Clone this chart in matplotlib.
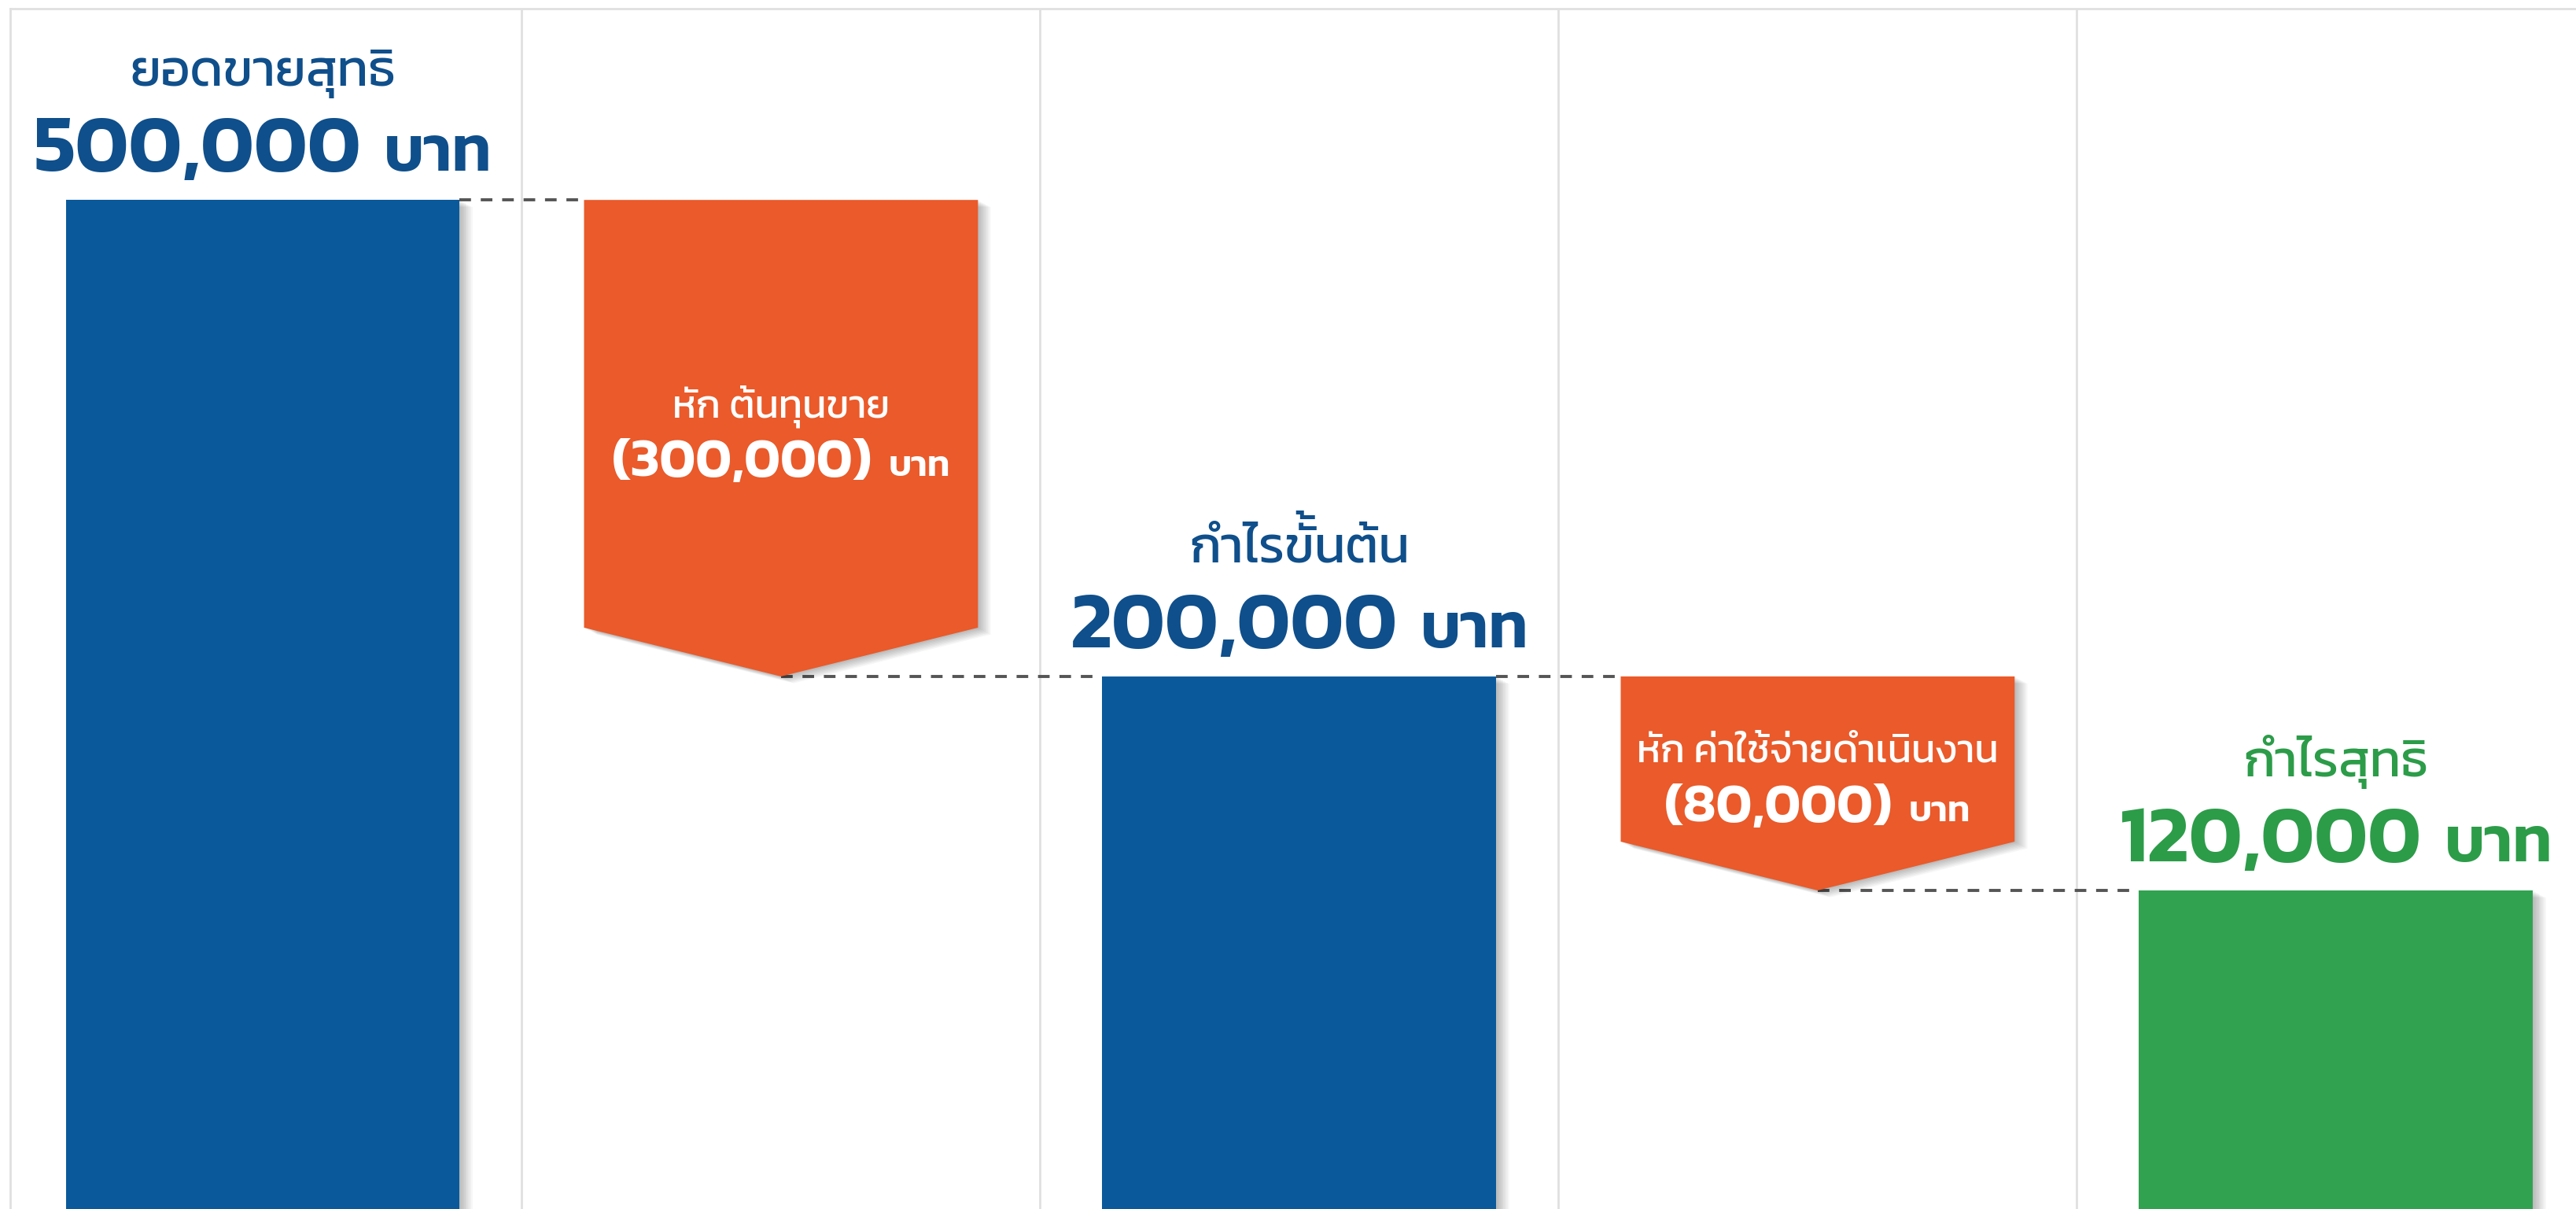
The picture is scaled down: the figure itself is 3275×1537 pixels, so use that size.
import numpy as np
import matplotlib
matplotlib.use("Agg")
import matplotlib.pyplot as plt
import matplotlib.patheffects as pe
import matplotlib.transforms as mtransforms
from matplotlib.patches import Polygon
from matplotlib import font_manager as fm

# ---------------------------------------------------------
# DATA
# ---------------------------------------------------------
steps = ['ยอดขายสุทธิ', 'หัก ต้นทุนขาย', 'กำไรขั้นต้น', 'หัก ค่าใช้จ่ายดำเนินงาน', 'กำไรสุทธิ']
amounts = [500000, -300000, 200000, -80000, 120000]
kinds = ['total', 'minus', 'total', 'minus', 'total']
unit = 'บาท'

# ---------------------------------------------------------
# FONT
# ---------------------------------------------------------
names = {f.name for f in fm.fontManager.ttflist}
thai = 'Kanit' if 'Kanit' in names else 'IBM Plex Sans Thai'
plt.rcParams['font.family'] = [thai, 'DejaVu Sans']

BLUE = '#0a5a9b'
BLUE_TXT = '#0f4f8b'
ORANGE = '#ea5a2a'
GREEN = '#31a350'
GREEN_TXT = '#2c9c49'
GRID = '#e0e0e0'

fig = plt.figure(figsize=(32.75, 15.37), dpi=100, facecolor='white')
ax = fig.add_axes([13 / 3275, 0, 1 - 13 / 3275, 1 - 11 / 1537])

# the picture is not drawn to a linear scale, a 0.3 power scale fits it
ax.set_yscale('function', functions=(lambda v: np.power(np.clip(v, 0, None), 0.3),
                                     lambda s: np.power(np.clip(s, 0, None), 1 / 0.3)))
ax.set_xlim(-0.487, 4.463)
ax.set_ylim(46700, 679700)
ax.set_xticks([])
ax.set_yticks([])
for side in ['right', 'bottom']:
    ax.spines[side].set_visible(False)
for side in ['left', 'top']:
    ax.spines[side].set_color(GRID)
    ax.spines[side].set_linewidth(2)
for xs in np.arange(0.5, len(steps) - 0.5):
    ax.axvline(xs, color=GRID, lw=2, zorder=0)


def soft_shadow():
    fx = [pe.SimplePatchShadow(offset=(k * 1.3, -k * 0.7), shadow_rgbFace='black', alpha=0.03)
          for k in range(1, 10)]
    return fx + [pe.Normal()]


def yfrac(v):
    return (ax.transScale + ax.transLimits).transform((0, v))[1]


blend = mtransforms.blended_transform_factory(ax.transData, ax.transAxes)
renderer = fig.canvas.get_renderer()

UPPER = 'ัิีึื'
TONES = '่้๊๋์'


def thai_text(x, y, s, trans, size, **kw):
    # matplotlib has no mark stacking, so a tone mark sitting on an upper
    # vowel (e.g. ขั้) is drawn on its own, lifted above the vowel
    stacked = [k for k, c in enumerate(s) if c in TONES and k > 0 and s[k - 1] in UPPER]
    clean = ''.join(c for k, c in enumerate(s) if k not in stacked)
    t = ax.text(x, y, clean, fontsize=size, ha='center', va='baseline', transform=trans, **kw)
    if not stacked:
        return t
    box = t.get_window_extent(renderer)
    ax_x = trans.transform((x, y))[0]
    for k in stacked:
        prefix = ''.join(c for j, c in enumerate(s[:k]) if j not in stacked)
        wp, _, _ = renderer.get_text_width_height_descent(prefix, t.get_fontproperties(), ismath=False)
        lift = 0.22 * size * fig.dpi / 72
        ax.text(x, y, s[k], fontsize=size, ha='right', va='baseline',
                transform=mtransforms.offset_copy(trans, fig, x=box.x0 + wp - ax_x, y=lift, units='dots'), **kw)
    return t


def value_label(xc, y, num, color, num_size, unit_size, yoff, gap=29, trans=None):
    # number + smaller unit, centred together on xc, on one baseline
    trans = ax.transData if trans is None else trans
    t1 = ax.text(xc, y, num, fontsize=num_size, fontweight='semibold', color=color,
                 ha='left', va='baseline', transform=trans, zorder=6)
    t2 = ax.text(xc, y, unit, fontsize=unit_size, fontweight='semibold', color=color,
                 ha='left', va='baseline', transform=trans, zorder=6)
    w1 = t1.get_window_extent(renderer).width
    w2 = t2.get_window_extent(renderer).width
    total = w1 + gap + w2
    t1.set_transform(mtransforms.offset_copy(trans, fig, x=-total / 2, y=yoff, units='dots'))
    t2.set_transform(mtransforms.offset_copy(trans, fig, x=-total / 2 + w1 + gap, y=yoff, units='dots'))


bar_w = 0.76
notch = 62 / 1526
run = []
level = 0
for i, (name, amt, kind) in enumerate(zip(steps, amounts, kinds)):
    if kind == 'total':
        level = amt
        last = i == len(steps) - 1
        color = GREEN if last else BLUE
        tcolor = GREEN_TXT if last else BLUE_TXT
        ax.bar(i, level, width=bar_w, color=color, zorder=3, path_effects=soft_shadow())
        thai_text(i, level, name, mtransforms.offset_copy(ax.transData, fig, x=0, y=145, units='dots'),
                  47, color=tcolor, zorder=6)
        value_label(i, level, f'{level:,}', tcolor, 74, 58, yoff=37)
    else:
        top = level
        level = level + amt
        f_top, f_end = yfrac(top), yfrac(level)
        x0, x1 = i - bar_w / 2, i + bar_w / 2
        verts = [(x0, f_top), (x1, f_top), (x1, f_end + notch), (i, f_end), (x0, f_end + notch)]
        ax.add_patch(Polygon(verts, closed=True, facecolor=ORANGE, edgecolor='none', zorder=3,
                             transform=blend, path_effects=soft_shadow()))
        mid = (f_top + f_end) / 2
        thai_text(i, mid, name, mtransforms.offset_copy(blend, fig, x=0, y=27, units='dots'),
                  36, color='white', zorder=6)
        value_label(i, mid, f'({abs(amt):,})', 'white', 50, 33, yoff=-48, gap=20, trans=blend)
    run.append(level)

# dashed connectors between the steps
for i in range(len(steps) - 1):
    x_start = i + bar_w / 2 if kinds[i] == 'total' else i
    x_end = i + 1 - bar_w / 2
    ax.plot([x_start, x_end], [run[i], run[i]], color='#555555', lw=2.8,
            linestyle=(0, (3.8, 3.2)), zorder=2)

fig.savefig('out.png', dpi=100, facecolor='white')
